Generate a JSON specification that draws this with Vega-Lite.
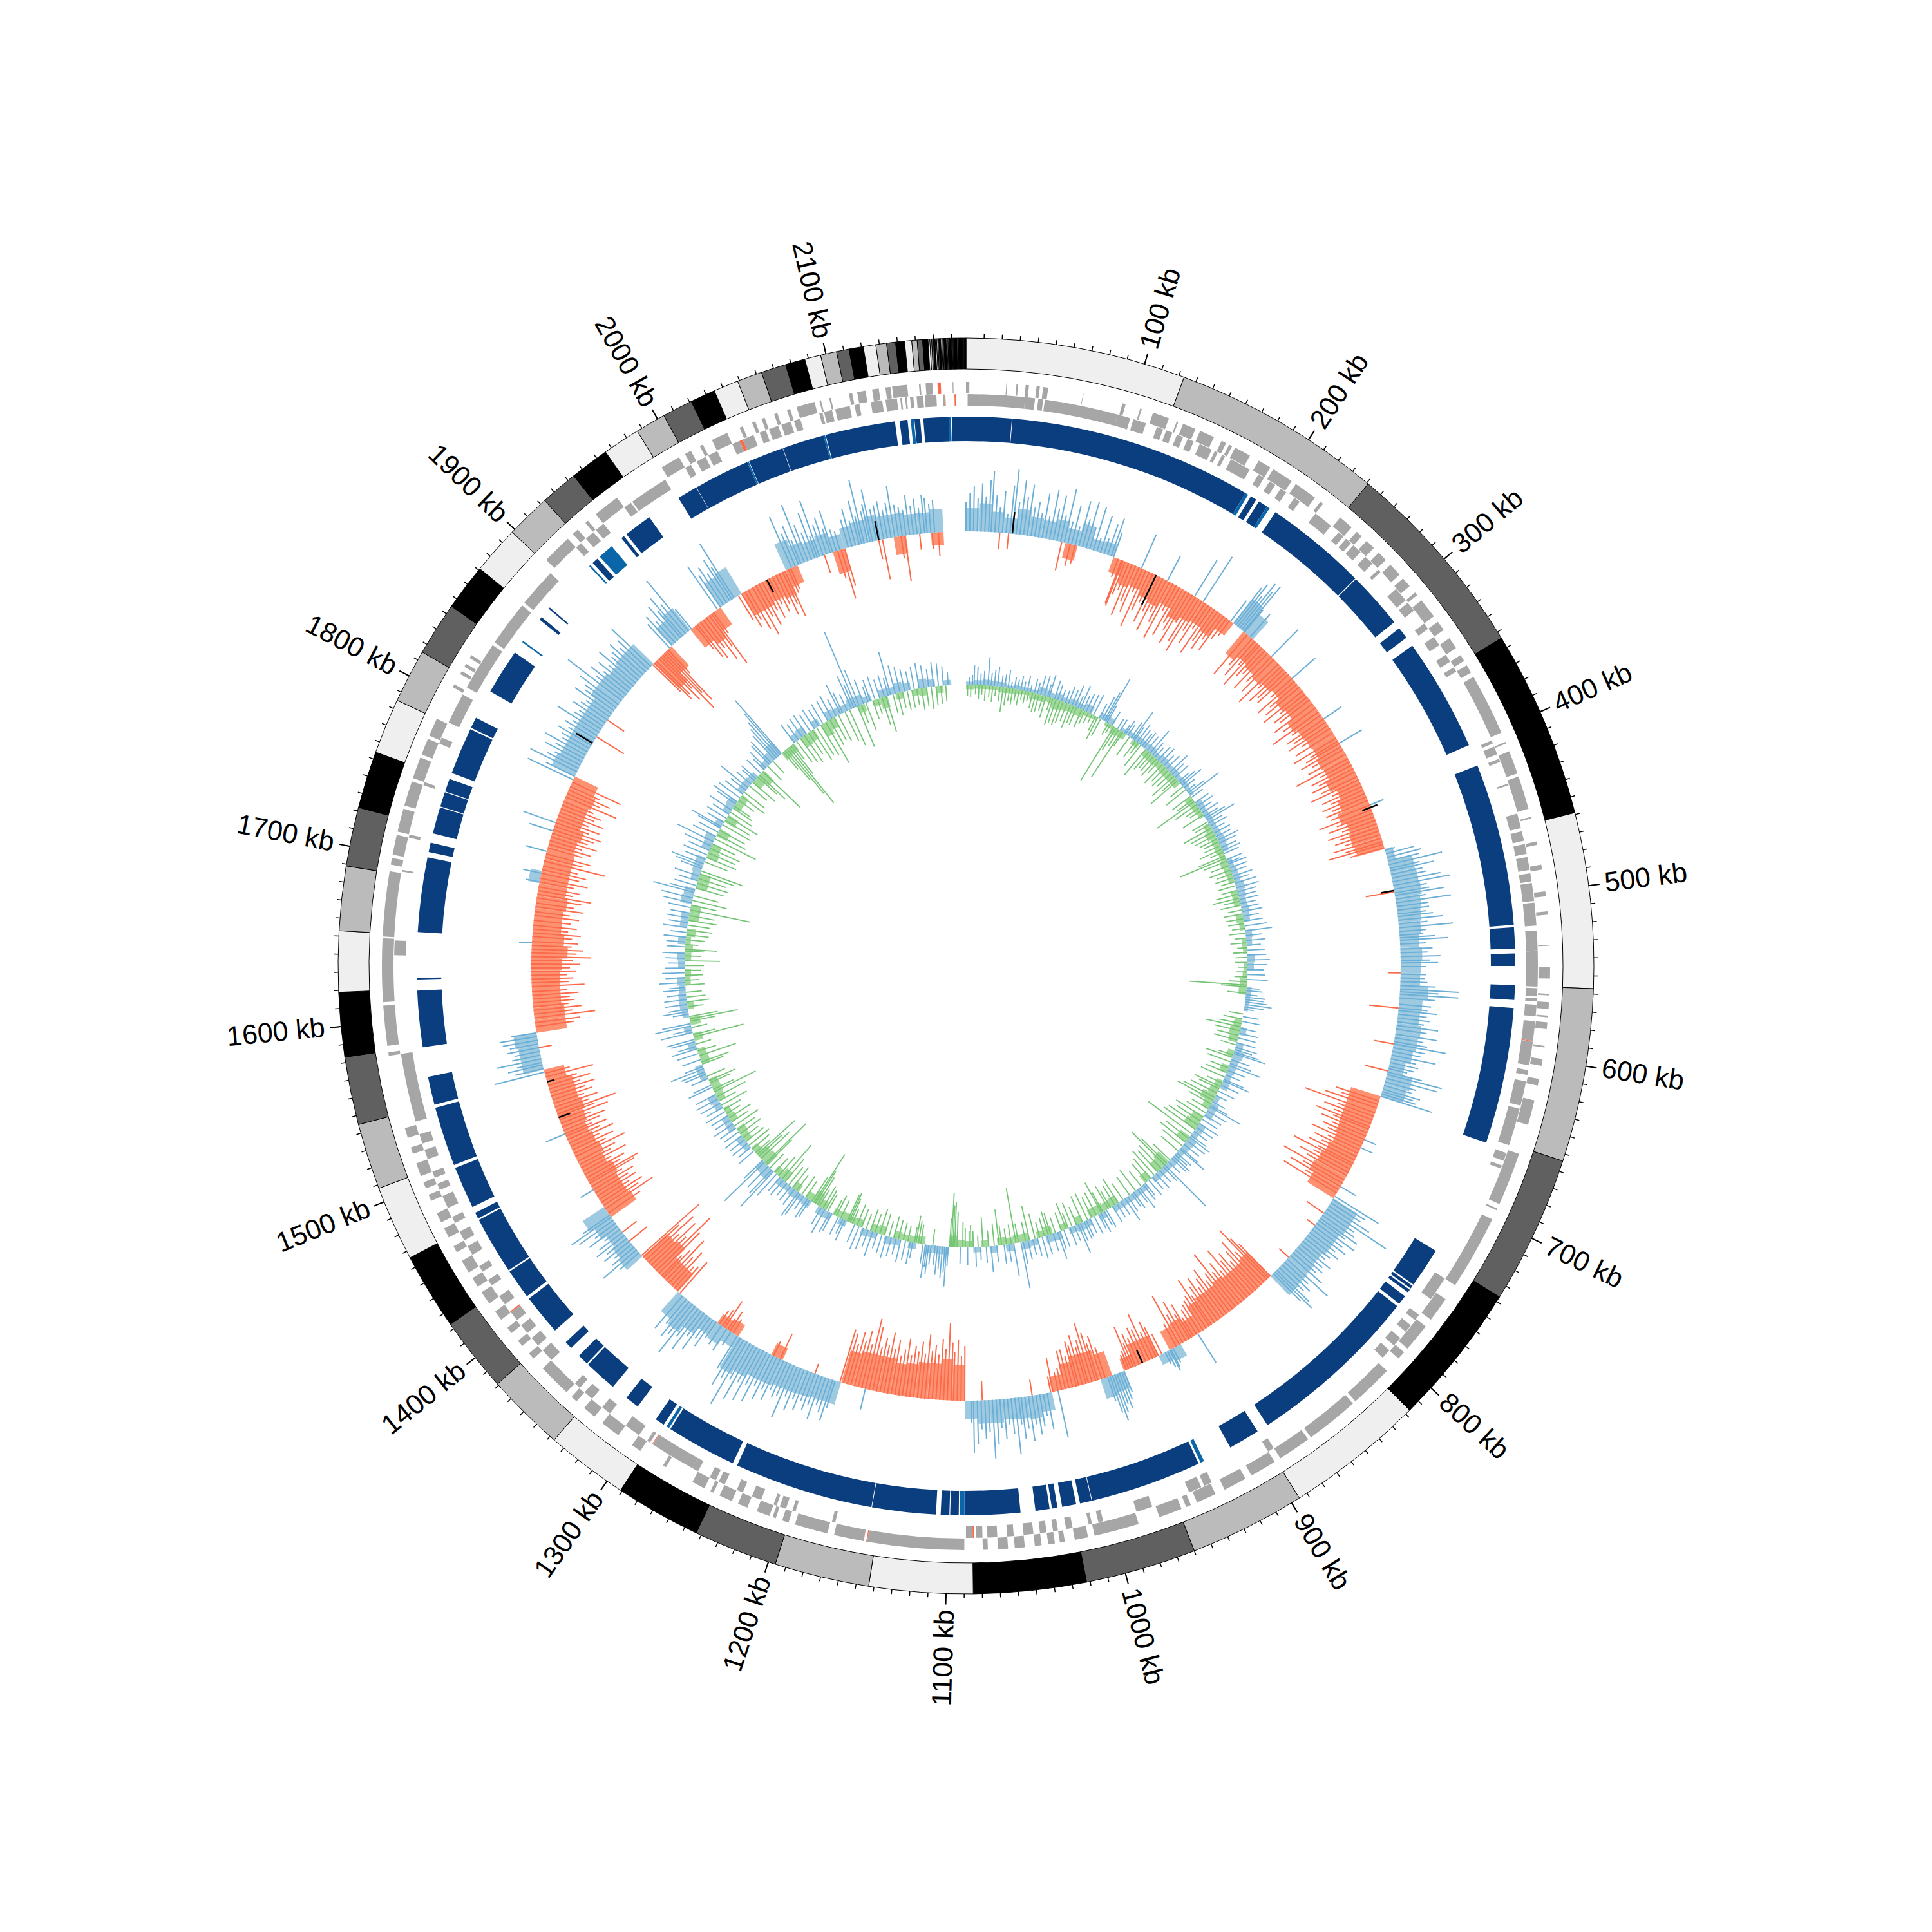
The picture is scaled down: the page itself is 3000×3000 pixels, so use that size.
{"$schema":"https://vega.github.io/schema/vega-lite/v6.json","autosize":{"type":"fit","contains":"padding"},"width":3000,"height":3000,"padding":0,"background":"white","config":{"view":{"stroke":null}},
"datasets":{
"ideo":[{"kb":0,"end":123,"shade":"a"},{"kb":123,"end":241,"shade":"b"},{"kb":241,"end":354,"shade":"c"},{"kb":354,"end":459,"shade":"d"},{"kb":459,"end":557,"shade":"a"},{"kb":557,"end":654,"shade":"b"},{"kb":654,"end":737,"shade":"c"},{"kb":737,"end":817,"shade":"d"},{"kb":817,"end":895,"shade":"a"},{"kb":895,"end":960,"shade":"b"},{"kb":960,"end":1022,"shade":"c"},{"kb":1022,"end":1085,"shade":"d"},{"kb":1085,"end":1143,"shade":"a"},{"kb":1143,"end":1196,"shade":"b"},{"kb":1196,"end":1243,"shade":"c"},{"kb":1243,"end":1291,"shade":"d"},{"kb":1291,"end":1337,"shade":"a"},{"kb":1337,"end":1381,"shade":"b"},{"kb":1381,"end":1423,"shade":"c"},{"kb":1423,"end":1466,"shade":"d"},{"kb":1466,"end":1508,"shade":"a"},{"kb":1508,"end":1545,"shade":"b"},{"kb":1545,"end":1583,"shade":"c"},{"kb":1583,"end":1619,"shade":"d"},{"kb":1619,"end":1653,"shade":"a"},{"kb":1653,"end":1689,"shade":"b"},{"kb":1689,"end":1722,"shade":"c"},{"kb":1722,"end":1754,"shade":"d"},{"kb":1754,"end":1785,"shade":"a"},{"kb":1785,"end":1815,"shade":"b"},{"kb":1815,"end":1845,"shade":"c"},{"kb":1845,"end":1871,"shade":"d"},{"kb":1871,"end":1898,"shade":"a"},{"kb":1898,"end":1923,"shade":"b"},{"kb":1923,"end":1944,"shade":"c"},{"kb":1944,"end":1966,"shade":"d"},{"kb":1966,"end":1987,"shade":"a"},{"kb":1987,"end":2004,"shade":"b"},{"kb":2004,"end":2021,"shade":"c"},{"kb":2021,"end":2035,"shade":"d"},{"kb":2035,"end":2049,"shade":"a"},{"kb":2049,"end":2063,"shade":"b"},{"kb":2063,"end":2077,"shade":"c"},{"kb":2077,"end":2088,"shade":"d"},{"kb":2088,"end":2097,"shade":"a"},{"kb":2097,"end":2106,"shade":"b"},{"kb":2106,"end":2113,"shade":"c"},{"kb":2113,"end":2121,"shade":"d"},{"kb":2121,"end":2128,"shade":"a"},{"kb":2128,"end":2134,"shade":"b"},{"kb":2134,"end":2139,"shade":"c"},{"kb":2139,"end":2144,"shade":"d"},{"kb":2144,"end":2148,"shade":"a"},{"kb":2148,"end":2151,"shade":"b"},{"kb":2151,"end":2154,"shade":"c"},{"kb":2154,"end":2157,"shade":"d"},{"kb":2157,"end":2158,"shade":"a"},{"kb":2158,"end":2159,"shade":"b"},{"kb":2159,"end":2160,"shade":"c"},{"kb":2160,"end":2161,"shade":"d"},{"kb":2161,"end":2161.7,"shade":"a"},{"kb":2161.7,"end":2162.4,"shade":"b"},{"kb":2162.4,"end":2163,"shade":"c"},{"kb":2163,"end":2164,"shade":"d"},{"kb":2164,"end":2164.6,"shade":"a"},{"kb":2164.6,"end":2165.2,"shade":"b"},{"kb":2165.2,"end":2165.8,"shade":"c"},{"kb":2165.8,"end":2167,"shade":"d"},{"kb":2167,"end":2167.5,"shade":"a"},{"kb":2167.5,"end":2168,"shade":"b"},{"kb":2168,"end":2168.6,"shade":"c"},{"kb":2168.6,"end":2170,"shade":"d"},{"kb":2170,"end":2170.4,"shade":"a"},{"kb":2170.4,"end":2170.8,"shade":"b"},{"kb":2170.8,"end":2171.2,"shade":"c"},{"kb":2171.2,"end":2173,"shade":"d"},{"kb":2173,"end":2173.4,"shade":"a"},{"kb":2173.4,"end":2173.8,"shade":"b"},{"kb":2173.8,"end":2174.2,"shade":"c"},{"kb":2174.2,"end":2176,"shade":"d"},{"kb":2176,"end":2176.3,"shade":"a"},{"kb":2176.3,"end":2176.6,"shade":"b"},{"kb":2176.6,"end":2177,"shade":"c"},{"kb":2177,"end":2178,"shade":"d"}],
"ticks":[{"kb":10},{"kb":20},{"kb":30},{"kb":40},{"kb":50},{"kb":60},{"kb":70},{"kb":80},{"kb":90},{"kb":100},{"kb":110},{"kb":120},{"kb":130},{"kb":140},{"kb":150},{"kb":160},{"kb":170},{"kb":180},{"kb":190},{"kb":200},{"kb":210},{"kb":220},{"kb":230},{"kb":240},{"kb":250},{"kb":260},{"kb":270},{"kb":280},{"kb":290},{"kb":300},{"kb":310},{"kb":320},{"kb":330},{"kb":340},{"kb":350},{"kb":360},{"kb":370},{"kb":380},{"kb":390},{"kb":400},{"kb":410},{"kb":420},{"kb":430},{"kb":440},{"kb":450},{"kb":460},{"kb":470},{"kb":480},{"kb":490},{"kb":500},{"kb":510},{"kb":520},{"kb":530},{"kb":540},{"kb":550},{"kb":560},{"kb":570},{"kb":580},{"kb":590},{"kb":600},{"kb":610},{"kb":620},{"kb":630},{"kb":640},{"kb":650},{"kb":660},{"kb":670},{"kb":680},{"kb":690},{"kb":700},{"kb":710},{"kb":720},{"kb":730},{"kb":740},{"kb":750},{"kb":760},{"kb":770},{"kb":780},{"kb":790},{"kb":800},{"kb":810},{"kb":820},{"kb":830},{"kb":840},{"kb":850},{"kb":860},{"kb":870},{"kb":880},{"kb":890},{"kb":900},{"kb":910},{"kb":920},{"kb":930},{"kb":940},{"kb":950},{"kb":960},{"kb":970},{"kb":980},{"kb":990},{"kb":1000},{"kb":1010},{"kb":1020},{"kb":1030},{"kb":1040},{"kb":1050},{"kb":1060},{"kb":1070},{"kb":1080},{"kb":1090},{"kb":1100},{"kb":1110},{"kb":1120},{"kb":1130},{"kb":1140},{"kb":1150},{"kb":1160},{"kb":1170},{"kb":1180},{"kb":1190},{"kb":1200},{"kb":1210},{"kb":1220},{"kb":1230},{"kb":1240},{"kb":1250},{"kb":1260},{"kb":1270},{"kb":1280},{"kb":1290},{"kb":1300},{"kb":1310},{"kb":1320},{"kb":1330},{"kb":1340},{"kb":1350},{"kb":1360},{"kb":1370},{"kb":1380},{"kb":1390},{"kb":1400},{"kb":1410},{"kb":1420},{"kb":1430},{"kb":1440},{"kb":1450},{"kb":1460},{"kb":1470},{"kb":1480},{"kb":1490},{"kb":1500},{"kb":1510},{"kb":1520},{"kb":1530},{"kb":1540},{"kb":1550},{"kb":1560},{"kb":1570},{"kb":1580},{"kb":1590},{"kb":1600},{"kb":1610},{"kb":1620},{"kb":1630},{"kb":1640},{"kb":1650},{"kb":1660},{"kb":1670},{"kb":1680},{"kb":1690},{"kb":1700},{"kb":1710},{"kb":1720},{"kb":1730},{"kb":1740},{"kb":1750},{"kb":1760},{"kb":1770},{"kb":1780},{"kb":1790},{"kb":1800},{"kb":1810},{"kb":1820},{"kb":1830},{"kb":1840},{"kb":1850},{"kb":1860},{"kb":1870},{"kb":1880},{"kb":1890},{"kb":1900},{"kb":1910},{"kb":1920},{"kb":1930},{"kb":1940},{"kb":1950},{"kb":1960},{"kb":1970},{"kb":1980},{"kb":1990},{"kb":2000},{"kb":2010},{"kb":2020},{"kb":2030},{"kb":2040},{"kb":2050},{"kb":2060},{"kb":2070},{"kb":2080},{"kb":2090},{"kb":2100},{"kb":2110},{"kb":2120},{"kb":2130},{"kb":2140},{"kb":2150},{"kb":2160},{"kb":2170}],
"labels":[{"kb":100,"t":"100 kb"},{"kb":200,"t":"200 kb"},{"kb":300,"t":"300 kb"},{"kb":400,"t":"400 kb"},{"kb":500,"t":"500 kb"},{"kb":600,"t":"600 kb"},{"kb":700,"t":"700 kb"},{"kb":800,"t":"800 kb"},{"kb":900,"t":"900 kb"},{"kb":1000,"t":"1000 kb"},{"kb":1100,"t":"1100 kb"},{"kb":1200,"t":"1200 kb"},{"kb":1300,"t":"1300 kb"},{"kb":1400,"t":"1400 kb"},{"kb":1500,"t":"1500 kb"},{"kb":1600,"t":"1600 kb"},{"kb":1700,"t":"1700 kb"},{"kb":1800,"t":"1800 kb"},{"kb":1900,"t":"1900 kb"},{"kb":2000,"t":"2000 kb"},{"kb":2100,"t":"2100 kb"}],
"genes":[{"kb":0,"end":2,"s":1},{"kb":24,"end":24.5,"s":1},{"kb":30,"end":31,"s":1},{"kb":35.5,"end":37.5,"s":1},{"kb":42,"end":44,"s":1},{"kb":46,"end":49,"s":1},{"kb":70,"end":70.3,"s":1},{"kb":94,"end":96,"s":1},{"kb":105,"end":106,"s":1},{"kb":113,"end":123,"s":1},{"kb":128,"end":129,"s":1},{"kb":132,"end":140,"s":1},{"kb":143,"end":152,"s":1},{"kb":157,"end":160,"s":1},{"kb":162,"end":164,"s":1},{"kb":166,"end":176,"s":1},{"kb":182,"end":190,"s":1},{"kb":192,"end":205,"s":1},{"kb":208,"end":222,"s":1},{"kb":226,"end":228,"s":1},{"kb":241,"end":250,"s":1},{"kb":254,"end":258,"s":1},{"kb":262,"end":268,"s":1},{"kb":272,"end":278,"s":1},{"kb":282,"end":290,"s":1},{"kb":293,"end":299,"s":1},{"kb":304,"end":306,"s":1},{"kb":310,"end":322,"s":1},{"kb":326,"end":332,"s":1},{"kb":338,"end":345,"s":1},{"kb":350,"end":354,"s":1},{"kb":357,"end":362,"s":1},{"kb":365,"end":402,"s":1},{"kb":408,"end":409,"s":1},{"kb":414,"end":428,"s":1},{"kb":430,"end":450,"s":1},{"kb":455,"end":456,"s":1},{"kb":470,"end":472,"s":1},{"kb":484,"end":487,"s":1},{"kb":500,"end":503,"s":1},{"kb":512,"end":514,"s":1},{"kb":532,"end":532.5,"s":1},{"kb":545,"end":552,"s":1},{"kb":561,"end":562,"s":1},{"kb":566,"end":570,"s":1},{"kb":574,"end":575,"s":1},{"kb":578,"end":582,"s":1},{"kb":592,"end":593,"s":1},{"kb":600,"end":604,"s":1},{"kb":612,"end":616,"s":1},{"kb":625,"end":640,"s":1},{"kb":658,"end":690,"s":1},{"kb":693,"end":694,"s":1},{"kb":700,"end":745,"s":1},{"kb":755,"end":770,"s":1},{"kb":775,"end":792,"s":1},{"kb":795,"end":800,"s":1},{"kb":810,"end":836,"s":1},{"kb":838,"end":870,"s":1},{"kb":872,"end":892,"s":1},{"kb":896,"end":912,"s":1},{"kb":916,"end":930,"s":1},{"kb":936,"end":948,"s":1},{"kb":952,"end":955,"s":1},{"kb":958,"end":972,"s":1},{"kb":985,"end":1012,"s":1},{"kb":1016,"end":1024,"s":1},{"kb":1030,"end":1033,"s":1},{"kb":1036,"end":1040,"s":1},{"kb":1044,"end":1048,"s":1},{"kb":1054,"end":1060,"s":1},{"kb":1064,"end":1070,"s":1},{"kb":1076,"end":1079,"s":1},{"kb":1090,"end":1148,"s":1},{"kb":1148,"end":1148.5,"s":1,"t":"r"},{"kb":1150,"end":1168,"s":1},{"kb":1172,"end":1192,"s":1},{"kb":1196,"end":1200,"s":1},{"kb":1204,"end":1206,"s":1},{"kb":1208,"end":1216,"s":1},{"kb":1222,"end":1228,"s":1},{"kb":1232,"end":1240,"s":1},{"kb":1244,"end":1246,"s":1},{"kb":1250,"end":1258,"s":1},{"kb":1276,"end":1278,"s":1},{"kb":1294,"end":1300,"s":1},{"kb":1310,"end":1322,"s":1},{"kb":1328,"end":1336,"s":1},{"kb":1342,"end":1346,"s":1},{"kb":1350,"end":1370,"s":1},{"kb":1378,"end":1382,"s":1},{"kb":1388,"end":1392,"s":1},{"kb":1398,"end":1402,"s":1},{"kb":1408,"end":1414,"s":1},{"kb":1420,"end":1428,"s":1},{"kb":1432,"end":1438,"s":1},{"kb":1442,"end":1450,"s":1},{"kb":1456,"end":1460,"s":1},{"kb":1466,"end":1472,"s":1},{"kb":1476,"end":1482,"s":1},{"kb":1490,"end":1494,"s":1},{"kb":1498,"end":1502,"s":1},{"kb":1506,"end":1514,"s":1},{"kb":1520,"end":1524,"s":1},{"kb":1530,"end":1536,"s":1},{"kb":1580,"end":1582,"s":1},{"kb":1586,"end":1610,"s":1},{"kb":1612,"end":1650,"s":1},{"kb":1651,"end":1690,"s":1},{"kb":1694,"end":1698,"s":1},{"kb":1700,"end":1712,"s":1},{"kb":1714,"end":1728,"s":1},{"kb":1730,"end":1745,"s":1},{"kb":1747,"end":1760,"s":1},{"kb":1762,"end":1772,"s":1},{"kb":1774,"end":1785,"s":1},{"kb":1806,"end":1808,"s":1},{"kb":1815,"end":1817,"s":1},{"kb":1820,"end":1822,"s":1},{"kb":1826,"end":1828,"s":1},{"kb":1900,"end":1918,"s":1},{"kb":1922,"end":1926,"s":1},{"kb":1932,"end":1934,"s":1},{"kb":1940,"end":1956,"s":1},{"kb":1988,"end":2000,"s":1},{"kb":2004,"end":2008,"s":1},{"kb":2014,"end":2016,"s":1},{"kb":2022,"end":2032,"s":1},{"kb":2040,"end":2042,"s":1},{"kb":2048,"end":2050,"s":1},{"kb":2054,"end":2056,"s":1},{"kb":2062,"end":2064,"s":1},{"kb":2070,"end":2072,"s":1},{"kb":2076,"end":2087,"s":1},{"kb":2090,"end":2091,"s":1},{"kb":2096,"end":2097,"s":1},{"kb":2108,"end":2110,"s":1},{"kb":2113,"end":2118,"s":1},{"kb":2122,"end":2126,"s":1},{"kb":2130,"end":2133,"s":1},{"kb":2134,"end":2143,"s":1},{"kb":2150,"end":2151,"s":1},{"kb":2154,"end":2158,"s":1},{"kb":2161,"end":2163,"s":1,"t":"r"},{"kb":2170,"end":2170.5,"s":1},
{"kb":1,"end":36,"s":0},{"kb":36,"end":42,"s":0},{"kb":44,"end":47,"s":0},{"kb":48,"end":93,"s":0},{"kb":93,"end":101,"s":0},{"kb":103,"end":111,"s":0},{"kb":118,"end":122,"s":0},{"kb":124,"end":128,"s":0},{"kb":131,"end":135,"s":0},{"kb":138,"end":142,"s":0},{"kb":146,"end":154,"s":0},{"kb":156,"end":158,"s":0},{"kb":161,"end":163,"s":0},{"kb":167,"end":180,"s":0},{"kb":186,"end":190,"s":0},{"kb":194,"end":198,"s":0},{"kb":202,"end":206,"s":0},{"kb":212,"end":216,"s":0},{"kb":228,"end":240,"s":0},{"kb":246,"end":250,"s":0},{"kb":252,"end":256,"s":0},{"kb":258,"end":264,"s":0},{"kb":268,"end":274,"s":0},{"kb":279,"end":281,"s":0},{"kb":295,"end":304,"s":0},{"kb":306,"end":312,"s":0},{"kb":322,"end":326,"s":0},{"kb":332,"end":338,"s":0},{"kb":345,"end":350,"s":0},{"kb":354,"end":357,"s":0},{"kb":404,"end":406,"s":0},{"kb":408,"end":413,"s":0},{"kb":416,"end":418,"s":0},{"kb":432,"end":433,"s":0},{"kb":451,"end":460,"s":0},{"kb":462,"end":468,"s":0},{"kb":470,"end":476,"s":0},{"kb":478,"end":486,"s":0},{"kb":488,"end":493,"s":0},{"kb":494,"end":505,"s":0},{"kb":506,"end":520,"s":0},{"kb":523,"end":535,"s":0},{"kb":535.4,"end":557,"s":0},{"kb":558,"end":563,"s":0},{"kb":564,"end":566,"s":0},{"kb":568,"end":575,"s":0},{"kb":578,"end":590,"s":0},{"kb":590,"end":590.4,"s":0,"t":"r"},{"kb":590.5,"end":605,"s":0},{"kb":608,"end":611,"s":0},{"kb":615,"end":630,"s":0},{"kb":632,"end":655,"s":0},{"kb":660,"end":665,"s":0},{"kb":668,"end":670,"s":0},{"kb":745,"end":760,"s":0},{"kb":772,"end":776,"s":0},{"kb":780,"end":785,"s":0},{"kb":790,"end":796,"s":0},{"kb":800,"end":806,"s":0},{"kb":892,"end":896,"s":0},{"kb":935,"end":940,"s":0},{"kb":942,"end":950,"s":0},{"kb":974,"end":984,"s":0},{"kb":1005,"end":1008,"s":0},{"kb":1012,"end":1014,"s":0},{"kb":1024,"end":1028,"s":0},{"kb":1033,"end":1036,"s":0},{"kb":1040,"end":1044,"s":0},{"kb":1048,"end":1054,"s":0},{"kb":1060,"end":1064,"s":0},{"kb":1070,"end":1076,"s":0},{"kb":1079,"end":1083,"s":0},{"kb":1084,"end":1085,"s":0,"t":"r"},{"kb":1085,"end":1089,"s":0},{"kb":1169,"end":1171,"s":0},{"kb":1194,"end":1196,"s":0},{"kb":1200,"end":1204,"s":0},{"kb":1206,"end":1208,"s":0},{"kb":1216,"end":1222,"s":0},{"kb":1228,"end":1232,"s":0},{"kb":1240,"end":1244,"s":0},{"kb":1246,"end":1250,"s":0},{"kb":1258,"end":1262,"s":0},{"kb":1262,"end":1290,"s":0},{"kb":1290,"end":1290.4,"s":0,"t":"r"},{"kb":1292,"end":1294,"s":0},{"kb":1300,"end":1310,"s":0},{"kb":1322,"end":1328,"s":0},{"kb":1336,"end":1342,"s":0},{"kb":1346,"end":1350,"s":0},{"kb":1370,"end":1378,"s":0},{"kb":1382,"end":1388,"s":0},{"kb":1392,"end":1398,"s":0},{"kb":1402,"end":1408,"s":0},{"kb":1408,"end":1408.8,"s":0,"t":"r"},{"kb":1414,"end":1420,"s":0},{"kb":1428,"end":1432,"s":0},{"kb":1438,"end":1442,"s":0},{"kb":1450,"end":1456,"s":0},{"kb":1460,"end":1466,"s":0},{"kb":1472,"end":1476,"s":0},{"kb":1482,"end":1490,"s":0},{"kb":1494,"end":1498,"s":0},{"kb":1502,"end":1506,"s":0},{"kb":1514,"end":1520,"s":0},{"kb":1524,"end":1530,"s":0},{"kb":1538,"end":1580,"s":0},{"kb":1640,"end":1649,"s":0},{"kb":1691,"end":1692,"s":0},{"kb":1712,"end":1714,"s":0},{"kb":1745,"end":1747,"s":0},{"kb":1772,"end":1776,"s":0},{"kb":1786,"end":1805,"s":0},{"kb":1810,"end":1840,"s":0},{"kb":1842,"end":1870,"s":0},{"kb":1872,"end":1896,"s":0},{"kb":1918,"end":1922,"s":0},{"kb":1926,"end":1932,"s":0},{"kb":1934,"end":1940,"s":0},{"kb":1956,"end":1961,"s":0},{"kb":1962,"end":1986,"s":0},{"kb":2000,"end":2004,"s":0},{"kb":2008,"end":2014,"s":0},{"kb":2016,"end":2022,"s":0},{"kb":2032,"end":2037,"s":0},{"kb":2037,"end":2039,"s":0,"t":"r"},{"kb":2039,"end":2046,"s":0},{"kb":2050,"end":2054,"s":0},{"kb":2056,"end":2062,"s":0},{"kb":2064,"end":2070,"s":0},{"kb":2072,"end":2076,"s":0},{"kb":2088,"end":2090,"s":0},{"kb":2091,"end":2096,"s":0},{"kb":2098,"end":2107,"s":0},{"kb":2110,"end":2113,"s":0},{"kb":2120,"end":2127,"s":0},{"kb":2129,"end":2136,"s":0},{"kb":2138,"end":2139,"s":0},{"kb":2141,"end":2142,"s":0},{"kb":2144,"end":2146,"s":0},{"kb":2148,"end":2152,"s":0},{"kb":2153,"end":2160,"s":0},{"kb":2164,"end":2165,"s":0},{"kb":2165,"end":2165.5,"s":0,"t":"r"},{"kb":2171,"end":2172,"s":0,"t":"r"}],
"blocks":[{"kb":0,"end":29},{"kb":29.4,"end":185},{"kb":185,"end":187,"t":"l"},{"kb":189,"end":193},{"kb":195,"end":201},{"kb":201,"end":203,"t":"l"},{"kb":207.5,"end":273},{"kb":273.6,"end":310},{"kb":315,"end":322.5},{"kb":328.7,"end":401},{"kb":415,"end":518.5},{"kb":520,"end":533.5},{"kb":536.6,"end":544.5},{"kb":556.6,"end":566},{"kb":571,"end":658},{"kb":733.4,"end":759},{"kb":760,"end":762},{"kb":763,"end":765},{"kb":768,"end":774},{"kb":776,"end":887.6},{"kb":895,"end":915},{"kb":933.6,"end":936,"t":"l"},{"kb":937.4,"end":1008.6},{"kb":1009,"end":1016.5},{"kb":1019,"end":1028},{"kb":1031,"end":1034.5},{"kb":1036,"end":1045},{"kb":1054.5,"end":1090},{"kb":1090,"end":1093,"t":"l"},{"kb":1093.6,"end":1099},{"kb":1099.5,"end":1105},{"kb":1108,"end":1148.6},{"kb":1149,"end":1238},{"kb":1241,"end":1286},{"kb":1287,"end":1289,"t":"l"},{"kb":1291,"end":1297},{"kb":1311,"end":1320},{"kb":1331,"end":1352},{"kb":1353,"end":1360},{"kb":1367,"end":1372},{"kb":1382,"end":1408},{"kb":1410,"end":1429},{"kb":1430,"end":1467},{"kb":1468,"end":1472},{"kb":1476,"end":1503},{"kb":1505,"end":1543},{"kb":1545,"end":1563},{"kb":1582,"end":1618},{"kb":1625,"end":1626},{"kb":1655,"end":1702.5},{"kb":1706,"end":1712},{"kb":1718,"end":1735},{"kb":1735.6,"end":1745},{"kb":1745.6,"end":1754},{"kb":1758,"end":1788},{"kb":1789,"end":1796},{"kb":1815,"end":1844},{"kb":1852,"end":1853,"t":"l"},{"kb":1870,"end":1872},{"kb":1879,"end":1880},{"kb":1916,"end":1917,"t":"l"},{"kb":1919,"end":1923},{"kb":1925,"end":1935,"t":"l"},{"kb":1943,"end":1945},{"kb":1947,"end":1965},{"kb":1987,"end":2000},{"kb":2000.3,"end":2036},{"kb":2036,"end":2037,"t":"l"},{"kb":2037.3,"end":2060},{"kb":2060.3,"end":2087},{"kb":2087,"end":2088,"t":"l"},{"kb":2088.4,"end":2133},{"kb":2136,"end":2141},{"kb":2143,"end":2145,"t":"l"},{"kb":2145.4,"end":2149},{"kb":2151,"end":2167},{"kb":2167,"end":2168.5,"t":"l"},{"kb":2169,"end":2178}],
"marks":[{"kb":37,"v":2,"v2":34},{"kb":157,"v":-51,"v2":0},{"kb":415,"v":-14,"v2":11},{"kb":484,"v":-21,"v2":0},{"kb":944,"v":-22,"v2":0},{"kb":1510,"v":-19,"v2":0},{"kb":1540,"v":-12,"v2":0},{"kb":1820,"v":0,"v2":30},{"kb":2013,"v":-22,"v2":0},{"kb":2108,"v":0,"v2":30}],
"outer":[{"kb":0,"v":45},{"kb":3,"v":60},{"kb":6,"v":70},{"kb":9,"v":52},{"kb":12,"v":75},{"kb":15,"v":55},{"kb":18,"v":80},{"kb":20,"v":95},{"kb":23,"v":58},{"kb":26,"v":40},{"kb":27,"v":-25},{"kb":29,"v":65},{"kb":32,"v":30},{"kb":34,"v":-25},{"kb":35,"v":75},{"kb":37,"v":100},{"kb":40,"v":50},{"kb":43,"v":85},{"kb":46,"v":60},{"kb":49,"v":80},{"kb":52,"v":45},{"kb":55,"v":55},{"kb":58,"v":38},{"kb":61,"v":70},{"kb":64,"v":35},{"kb":67,"v":78},{"kb":70,"v":50},{"kb":73,"v":72},{"kb":76,"v":42},{"kb":77,"v":-45},{"kb":79,"v":85},{"kb":82,"v":35},{"kb":84,"v":-35},{"kb":85,"v":62},{"kb":88,"v":30},{"kb":88,"v":-30},{"kb":91,"v":72},{"kb":94,"v":45},{"kb":97,"v":75},{"kb":100,"v":35},{"kb":103,"v":70},{"kb":106,"v":22},{"kb":109,"v":60},{"kb":112,"v":25},{"kb":115,"v":50},{"kb":118,"v":62},{"kb":120,"v":40},{"kb":124,"v":-30},{"kb":127,"v":-72},{"kb":128,"v":-75},{"kb":130,"v":-55},{"kb":133,"v":-45},{"kb":136,"v":-85},{"kb":139,"v":-60},{"kb":142,"v":-75},{"kb":144,"v":57},{"kb":145,"v":-40},{"kb":148,"v":-95},{"kb":151,"v":-65},{"kb":154,"v":-50},{"kb":157,"v":-80},{"kb":160,"v":-60},{"kb":163,"v":-90},{"kb":166,"v":-55},{"kb":167,"v":43},{"kb":169,"v":-70},{"kb":172,"v":-95},{"kb":175,"v":-45},{"kb":178,"v":-85},{"kb":181,"v":-60},{"kb":184,"v":-70},{"kb":187,"v":-90},{"kb":190,"v":-50},{"kb":192,"v":67},{"kb":193,"v":-80},{"kb":196,"v":-95},{"kb":199,"v":-55},{"kb":200,"v":83},{"kb":202,"v":-75},{"kb":205,"v":-45},{"kb":208,"v":-85},{"kb":211,"v":-60},{"kb":214,"v":-70},{"kb":217,"v":-50},{"kb":220,"v":-65},{"kb":223,"v":-40},{"kb":226,"v":-30},{"kb":227,"v":40},{"kb":230,"v":70},{"kb":232,"v":80},{"kb":234,"v":60},{"kb":236,"v":88},{"kb":238,"v":75},{"kb":240,"v":90},{"kb":241,"v":45},{"kb":244,"v":-80},{"kb":247,"v":47},{"kb":249,"v":-55},{"kb":252,"v":-70},{"kb":255,"v":-45},{"kb":257,"v":-82},{"kb":260,"v":-60},{"kb":263,"v":-50},{"kb":266,"v":-75},{"kb":270,"v":59},{"kb":270,"v":-55},{"kb":273,"v":-70},{"kb":278,"v":-85},{"kb":281,"v":-50},{"kb":284,"v":-72},{"kb":287,"v":-60},{"kb":290,"v":-65},{"kb":294,"v":48},{"kb":294,"v":-45},{"kb":297,"v":-75},{"kb":300,"v":-55},{"kb":303,"v":-68},{"kb":307,"v":-78},{"kb":310,"v":-50},{"kb":313,"v":-66},{"kb":316,"v":-58},{"kb":320,"v":-74},{"kb":324,"v":-62},{"kb":328,"v":-87},{"kb":331,"v":-55},{"kb":335,"v":33},{"kb":335,"v":-70},{"kb":338,"v":-60},{"kb":341,"v":-72},{"kb":344,"v":-52},{"kb":348,"v":-68},{"kb":353,"v":-76},{"kb":356,"v":-50},{"kb":358,"v":41},{"kb":358,"v":-60},{"kb":361,"v":-72},{"kb":364,"v":-55},{"kb":368,"v":-66},{"kb":372,"v":-91},{"kb":375,"v":-52},{"kb":378,"v":-70},{"kb":381,"v":-60},{"kb":384,"v":-75},{"kb":388,"v":-62},{"kb":391,"v":-82},{"kb":394,"v":-48},{"kb":397,"v":-68},{"kb":400,"v":-55},{"kb":403,"v":-72},{"kb":406,"v":-58},{"kb":409,"v":-70},{"kb":413,"v":23},{"kb":413,"v":-65},{"kb":417,"v":-87},{"kb":420,"v":-60},{"kb":423,"v":-75},{"kb":426,"v":-55},{"kb":429,"v":-80},{"kb":432,"v":-62},{"kb":435,"v":-72},{"kb":438,"v":-58},{"kb":441,"v":-78},{"kb":444,"v":-60},{"kb":446,"v":-88},{"kb":449,"v":-55},{"kb":451,"v":16},{"kb":454,"v":45},{"kb":457,"v":55},{"kb":460,"v":50},{"kb":463,"v":85},{"kb":466,"v":48},{"kb":468,"v":69},{"kb":471,"v":50},{"kb":474,"v":55},{"kb":477,"v":76},{"kb":480,"v":90},{"kb":483,"v":52},{"kb":485,"v":-45},{"kb":486,"v":55},{"kb":488,"v":78},{"kb":491,"v":48},{"kb":494,"v":86},{"kb":497,"v":50},{"kb":500,"v":50},{"kb":503,"v":45},{"kb":505,"v":55},{"kb":508,"v":70},{"kb":511,"v":45},{"kb":514,"v":84},{"kb":517,"v":42},{"kb":520,"v":37},{"kb":522,"v":55},{"kb":524,"v":75},{"kb":527,"v":40},{"kb":531,"v":50},{"kb":534,"v":42},{"kb":537,"v":62},{"kb":540,"v":45},{"kb":542,"v":58},{"kb":545,"v":40},{"kb":550,"v":-20},{"kb":551,"v":40},{"kb":554,"v":38},{"kb":557,"v":42},{"kb":560,"v":55},{"kb":563,"v":92},{"kb":565,"v":60},{"kb":567,"v":91},{"kb":570,"v":55},{"kb":575,"v":50},{"kb":578,"v":-46},{"kb":578,"v":45},{"kb":580,"v":60},{"kb":583,"v":45},{"kb":586,"v":50},{"kb":589,"v":42},{"kb":592,"v":65},{"kb":595,"v":48},{"kb":599,"v":65},{"kb":602,"v":45},{"kb":605,"v":52},{"kb":607,"v":82},{"kb":607,"v":-31},{"kb":610,"v":50},{"kb":613,"v":45},{"kb":616,"v":70},{"kb":619,"v":40},{"kb":622,"v":45},{"kb":625,"v":40},{"kb":627,"v":30},{"kb":629,"v":-37},{"kb":630,"v":55},{"kb":632,"v":88},{"kb":635,"v":82},{"kb":638,"v":50},{"kb":641,"v":45},{"kb":644,"v":60},{"kb":646,"v":50},{"kb":648,"v":55},{"kb":650,"v":83},{"kb":654,"v":-70},{"kb":657,"v":-60},{"kb":660,"v":-85},{"kb":664,"v":-116},{"kb":667,"v":-60},{"kb":670,"v":-80},{"kb":673,"v":-62},{"kb":676,"v":-90},{"kb":678,"v":-60},{"kb":681,"v":-77},{"kb":684,"v":-58},{"kb":687,"v":19},{"kb":687,"v":-70},{"kb":690,"v":-60},{"kb":693,"v":-85},{"kb":694,"v":20},{"kb":696,"v":-55},{"kb":699,"v":-75},{"kb":702,"v":-60},{"kb":705,"v":-80},{"kb":708,"v":-62},{"kb":710,"v":-101},{"kb":713,"v":-65},{"kb":716,"v":-85},{"kb":719,"v":-70},{"kb":723,"v":-108},{"kb":726,"v":-70},{"kb":729,"v":28},{"kb":729,"v":-90},{"kb":732,"v":-60},{"kb":735,"v":-96},{"kb":738,"v":80},{"kb":741,"v":60},{"kb":744,"v":55},{"kb":747,"v":75},{"kb":750,"v":111},{"kb":753,"v":55},{"kb":754,"v":-32},{"kb":756,"v":60},{"kb":759,"v":70},{"kb":761,"v":50},{"kb":764,"v":73},{"kb":766,"v":-15},{"kb":767,"v":55},{"kb":770,"v":65},{"kb":773,"v":50},{"kb":776,"v":60},{"kb":779,"v":50},{"kb":782,"v":45},{"kb":785,"v":60},{"kb":788,"v":50},{"kb":791,"v":55},{"kb":794,"v":48},{"kb":797,"v":65},{"kb":799,"v":-20},{"kb":801,"v":85},{"kb":804,"v":50},{"kb":807,"v":60},{"kb":810,"v":52},{"kb":813,"v":70},{"kb":815,"v":80},{"kb":817,"v":60},{"kb":820,"v":-70},{"kb":822,"v":-85},{"kb":824,"v":-106},{"kb":827,"v":-65},{"kb":830,"v":-90},{"kb":833,"v":-75},{"kb":836,"v":-60},{"kb":839,"v":-80},{"kb":842,"v":-70},{"kb":845,"v":-95},{"kb":848,"v":-60},{"kb":851,"v":-78},{"kb":854,"v":-65},{"kb":857,"v":-104},{"kb":860,"v":-70},{"kb":863,"v":-60},{"kb":866,"v":-85},{"kb":869,"v":-72},{"kb":872,"v":-60},{"kb":875,"v":-80},{"kb":878,"v":-68},{"kb":881,"v":-55},{"kb":883,"v":-86},{"kb":886,"v":-60},{"kb":889,"v":-55},{"kb":892,"v":-50},{"kb":894,"v":53},{"kb":895,"v":-45},{"kb":898,"v":-35},{"kb":900,"v":-60},{"kb":902,"v":-45},{"kb":905,"v":-70},{"kb":908,"v":-50},{"kb":911,"v":-86},{"kb":914,"v":-40},{"kb":917,"v":25},{"kb":919,"v":30},{"kb":920,"v":36},{"kb":922,"v":28},{"kb":924,"v":20},{"kb":927,"v":-35},{"kb":930,"v":-50},{"kb":932,"v":-60},{"kb":935,"v":-45},{"kb":938,"v":-78},{"kb":941,"v":-55},{"kb":944,"v":-60},{"kb":947,"v":-45},{"kb":950,"v":-55},{"kb":952,"v":-40},{"kb":954,"v":-69},{"kb":956,"v":-30},{"kb":958,"v":-25},{"kb":960,"v":35},{"kb":962,"v":45},{"kb":964,"v":58},{"kb":966,"v":50},{"kb":968,"v":62},{"kb":970,"v":74},{"kb":972,"v":60},{"kb":974,"v":40},{"kb":976,"v":-50},{"kb":979,"v":-70},{"kb":982,"v":-60},{"kb":984,"v":-78},{"kb":987,"v":-95},{"kb":990,"v":-70},{"kb":992,"v":-60},{"kb":995,"v":-80},{"kb":998,"v":-65},{"kb":1000,"v":-72},{"kb":1003,"v":-50},{"kb":1006,"v":-62},{"kb":1009,"v":-61},{"kb":1012,"v":-35},{"kb":1015,"v":74},{"kb":1015,"v":-30},{"kb":1019,"v":-54},{"kb":1021,"v":-25},{"kb":1024,"v":57},{"kb":1027,"v":35},{"kb":1030,"v":50},{"kb":1033,"v":62},{"kb":1036,"v":45},{"kb":1036,"v":-25},{"kb":1039,"v":70},{"kb":1042,"v":50},{"kb":1045,"v":65},{"kb":1047,"v":42},{"kb":1050,"v":88},{"kb":1053,"v":55},{"kb":1056,"v":40},{"kb":1059,"v":62},{"kb":1062,"v":45},{"kb":1065,"v":70},{"kb":1068,"v":91},{"kb":1071,"v":50},{"kb":1074,"v":60},{"kb":1076,"v":-30},{"kb":1077,"v":45},{"kb":1080,"v":68},{"kb":1083,"v":81},{"kb":1085,"v":35},{"kb":1090,"v":-85},{"kb":1093,"v":-70},{"kb":1096,"v":-95},{"kb":1099,"v":-75},{"kb":1101,"v":-90},{"kb":1104,"v":-120},{"kb":1107,"v":-80},{"kb":1110,"v":-95},{"kb":1113,"v":-70},{"kb":1116,"v":-85},{"kb":1119,"v":-75},{"kb":1122,"v":-100},{"kb":1125,"v":-70},{"kb":1128,"v":-88},{"kb":1131,"v":-72},{"kb":1134,"v":-80},{"kb":1137,"v":-65},{"kb":1140,"v":-90},{"kb":1143,"v":-72},{"kb":1146,"v":-62},{"kb":1149,"v":-85},{"kb":1152,"v":-70},{"kb":1155,"v":-95},{"kb":1158,"v":-75},{"kb":1161,"v":-85},{"kb":1164,"v":-70},{"kb":1167,"v":-100},{"kb":1170,"v":-112},{"kb":1170,"v":33},{"kb":1173,"v":-70},{"kb":1176,"v":-90},{"kb":1179,"v":-72},{"kb":1182,"v":-85},{"kb":1185,"v":-65},{"kb":1188,"v":-80},{"kb":1191,"v":-85},{"kb":1195,"v":45},{"kb":1197,"v":66},{"kb":1200,"v":55},{"kb":1203,"v":45},{"kb":1206,"v":70},{"kb":1209,"v":50},{"kb":1212,"v":-16},{"kb":1212,"v":60},{"kb":1215,"v":48},{"kb":1218,"v":65},{"kb":1221,"v":50},{"kb":1224,"v":70},{"kb":1227,"v":50},{"kb":1230,"v":88},{"kb":1233,"v":55},{"kb":1236,"v":60},{"kb":1239,"v":50},{"kb":1242,"v":-43},{"kb":1242,"v":70},{"kb":1245,"v":55},{"kb":1248,"v":-25},{"kb":1248,"v":75},{"kb":1251,"v":55},{"kb":1254,"v":85},{"kb":1257,"v":60},{"kb":1260,"v":90},{"kb":1263,"v":62},{"kb":1266,"v":95},{"kb":1269,"v":65},{"kb":1272,"v":112},{"kb":1275,"v":70},{"kb":1278,"v":85},{"kb":1281,"v":60},{"kb":1285,"v":-25},{"kb":1287,"v":25},{"kb":1288,"v":-35},{"kb":1290,"v":-20},{"kb":1291,"v":40},{"kb":1293,"v":-49},{"kb":1295,"v":-30},{"kb":1296,"v":35},{"kb":1298,"v":-25},{"kb":1301,"v":30},{"kb":1304,"v":50},{"kb":1307,"v":40},{"kb":1310,"v":65},{"kb":1313,"v":45},{"kb":1316,"v":75},{"kb":1319,"v":55},{"kb":1322,"v":91},{"kb":1325,"v":60},{"kb":1328,"v":70},{"kb":1331,"v":50},{"kb":1335,"v":66},{"kb":1338,"v":-64},{"kb":1341,"v":-50},{"kb":1344,"v":-45},{"kb":1347,"v":-70},{"kb":1350,"v":-55},{"kb":1353,"v":-85},{"kb":1356,"v":-60},{"kb":1358,"v":-45},{"kb":1361,"v":-90},{"kb":1364,"v":-117},{"kb":1367,"v":-70},{"kb":1370,"v":-95},{"kb":1373,"v":-65},{"kb":1376,"v":-100},{"kb":1379,"v":-75},{"kb":1381,"v":-119},{"kb":1384,"v":40},{"kb":1387,"v":68},{"kb":1390,"v":45},{"kb":1393,"v":35},{"kb":1396,"v":-35},{"kb":1396,"v":50},{"kb":1399,"v":40},{"kb":1402,"v":55},{"kb":1405,"v":-28},{"kb":1405,"v":45},{"kb":1408,"v":30},{"kb":1411,"v":55},{"kb":1414,"v":40},{"kb":1417,"v":65},{"kb":1420,"v":75},{"kb":1422,"v":50},{"kb":1424,"v":-60},{"kb":1428,"v":-88},{"kb":1431,"v":-65},{"kb":1434,"v":-75},{"kb":1437,"v":-55},{"kb":1440,"v":-70},{"kb":1443,"v":-60},{"kb":1446,"v":23},{"kb":1446,"v":-72},{"kb":1449,"v":-55},{"kb":1452,"v":-80},{"kb":1454,"v":-89},{"kb":1457,"v":-60},{"kb":1460,"v":-70},{"kb":1463,"v":-50},{"kb":1466,"v":-78},{"kb":1469,"v":-55},{"kb":1472,"v":-65},{"kb":1476,"v":-85},{"kb":1479,"v":-55},{"kb":1482,"v":-70},{"kb":1485,"v":-50},{"kb":1488,"v":-75},{"kb":1491,"v":-55},{"kb":1494,"v":-68},{"kb":1496,"v":32},{"kb":1496,"v":-45},{"kb":1499,"v":-60},{"kb":1502,"v":-72},{"kb":1505,"v":-50},{"kb":1508,"v":-80},{"kb":1511,"v":-60},{"kb":1513,"v":-96},{"kb":1516,"v":-55},{"kb":1519,"v":-70},{"kb":1522,"v":-50},{"kb":1525,"v":-65},{"kb":1528,"v":-55},{"kb":1531,"v":-72},{"kb":1534,"v":-50},{"kb":1537,"v":-68},{"kb":1540,"v":-48},{"kb":1544,"v":-76},{"kb":1547,"v":-40},{"kb":1548,"v":80},{"kb":1551,"v":45},{"kb":1554,"v":55},{"kb":1556,"v":40},{"kb":1559,"v":71},{"kb":1562,"v":45},{"kb":1565,"v":40},{"kb":1568,"v":-20},{"kb":1568,"v":50},{"kb":1571,"v":45},{"kb":1574,"v":55},{"kb":1577,"v":59},{"kb":1580,"v":40},{"kb":1585,"v":-60},{"kb":1588,"v":-70},{"kb":1592,"v":-95},{"kb":1595,"v":-60},{"kb":1598,"v":-75},{"kb":1601,"v":-55},{"kb":1604,"v":-65},{"kb":1607,"v":-58},{"kb":1610,"v":-72},{"kb":1613,"v":-55},{"kb":1617,"v":-82},{"kb":1620,"v":-58},{"kb":1623,"v":-65},{"kb":1626,"v":-55},{"kb":1629,"v":-70},{"kb":1632,"v":-60},{"kb":1635,"v":-75},{"kb":1638,"v":-65},{"kb":1641,"v":-93},{"kb":1644,"v":-70},{"kb":1647,"v":-80},{"kb":1650,"v":-62},{"kb":1652,"v":20},{"kb":1653,"v":-72},{"kb":1657,"v":-62},{"kb":1660,"v":-75},{"kb":1663,"v":-55},{"kb":1666,"v":-68},{"kb":1670,"v":-58},{"kb":1674,"v":-70},{"kb":1677,"v":-55},{"kb":1681,"v":-75},{"kb":1684,"v":-60},{"kb":1688,"v":-70},{"kb":1691,"v":-85},{"kb":1694,"v":-55},{"kb":1697,"v":-65},{"kb":1701,"v":22},{"kb":1701,"v":-55},{"kb":1704,"v":-75},{"kb":1708,"v":29},{"kb":1708,"v":-60},{"kb":1711,"v":-70},{"kb":1714,"v":-55},{"kb":1718,"v":-98},{"kb":1721,"v":-60},{"kb":1724,"v":-72},{"kb":1726,"v":34},{"kb":1729,"v":-55},{"kb":1732,"v":-68},{"kb":1735,"v":-52},{"kb":1738,"v":-75},{"kb":1741,"v":-58},{"kb":1743,"v":38},{"kb":1744,"v":-66},{"kb":1747,"v":-77},{"kb":1750,"v":53},{"kb":1750,"v":-55},{"kb":1753,"v":-70},{"kb":1756,"v":-50},{"kb":1759,"v":-72},{"kb":1762,"v":-55},{"kb":1765,"v":-65},{"kb":1768,"v":-50},{"kb":1772,"v":-85},{"kb":1775,"v":-55},{"kb":1778,"v":-70},{"kb":1781,"v":-50},{"kb":1785,"v":-83},{"kb":1787,"v":78},{"kb":1790,"v":50},{"kb":1794,"v":81},{"kb":1797,"v":55},{"kb":1800,"v":45},{"kb":1803,"v":65},{"kb":1806,"v":50},{"kb":1809,"v":72},{"kb":1812,"v":45},{"kb":1815,"v":50},{"kb":1818,"v":60},{"kb":1821,"v":45},{"kb":1824,"v":55},{"kb":1826,"v":-50},{"kb":1827,"v":45},{"kb":1830,"v":77},{"kb":1833,"v":50},{"kb":1836,"v":45},{"kb":1839,"v":60},{"kb":1842,"v":-31},{"kb":1842,"v":50},{"kb":1845,"v":45},{"kb":1848,"v":70},{"kb":1851,"v":55},{"kb":1854,"v":60},{"kb":1857,"v":75},{"kb":1861,"v":105},{"kb":1864,"v":55},{"kb":1867,"v":70},{"kb":1870,"v":50},{"kb":1873,"v":65},{"kb":1876,"v":50},{"kb":1879,"v":75},{"kb":1882,"v":55},{"kb":1885,"v":60},{"kb":1888,"v":70},{"kb":1891,"v":55},{"kb":1894,"v":65},{"kb":1897,"v":84},{"kb":1899,"v":-60},{"kb":1901,"v":-80},{"kb":1903,"v":-73},{"kb":1906,"v":-90},{"kb":1908,"v":-70},{"kb":1910,"v":-114},{"kb":1912,"v":-85},{"kb":1914,"v":-103},{"kb":1916,"v":-50},{"kb":1918,"v":50},{"kb":1921,"v":60},{"kb":1924,"v":45},{"kb":1927,"v":70},{"kb":1930,"v":55},{"kb":1932,"v":77},{"kb":1935,"v":60},{"kb":1938,"v":102},{"kb":1941,"v":40},{"kb":1945,"v":-45},{"kb":1947,"v":-64},{"kb":1950,"v":-70},{"kb":1953,"v":-55},{"kb":1956,"v":-80},{"kb":1959,"v":-60},{"kb":1961,"v":-94},{"kb":1963,"v":-40},{"kb":1967,"v":81},{"kb":1970,"v":60},{"kb":1973,"v":70},{"kb":1976,"v":55},{"kb":1979,"v":75},{"kb":1981,"v":60},{"kb":1983,"v":100},{"kb":1987,"v":-45},{"kb":1990,"v":-60},{"kb":1993,"v":-50},{"kb":1996,"v":-70},{"kb":2000,"v":-84},{"kb":2003,"v":-55},{"kb":2006,"v":-72},{"kb":2009,"v":-50},{"kb":2012,"v":-65},{"kb":2015,"v":-45},{"kb":2018,"v":-60},{"kb":2021,"v":-50},{"kb":2024,"v":-70},{"kb":2027,"v":-55},{"kb":2029,"v":-77},{"kb":2032,"v":-40},{"kb":2034,"v":-35},{"kb":2035,"v":86},{"kb":2038,"v":55},{"kb":2041,"v":65},{"kb":2043,"v":40},{"kb":2046,"v":96},{"kb":2049,"v":60},{"kb":2052,"v":45},{"kb":2055,"v":75},{"kb":2057,"v":35},{"kb":2059,"v":92},{"kb":2062,"v":50},{"kb":2063,"v":-29},{"kb":2065,"v":60},{"kb":2068,"v":40},{"kb":2070,"v":68},{"kb":2073,"v":35},{"kb":2074,"v":-45},{"kb":2076,"v":30},{"kb":2077,"v":-79},{"kb":2080,"v":-60},{"kb":2083,"v":45},{"kb":2086,"v":60},{"kb":2089,"v":40},{"kb":2092,"v":70},{"kb":2094,"v":45},{"kb":2096,"v":101},{"kb":2099,"v":50},{"kb":2101,"v":60},{"kb":2103,"v":82},{"kb":2106,"v":50},{"kb":2108,"v":-30},{"kb":2109,"v":55},{"kb":2111,"v":-63},{"kb":2112,"v":60},{"kb":2115,"v":45},{"kb":2118,"v":55},{"kb":2121,"v":80},{"kb":2124,"v":50},{"kb":2126,"v":-35},{"kb":2127,"v":45},{"kb":2129,"v":-71},{"kb":2130,"v":40},{"kb":2133,"v":63},{"kb":2136,"v":45},{"kb":2139,"v":55},{"kb":2141,"v":-25},{"kb":2142,"v":40},{"kb":2145,"v":60},{"kb":2147,"v":55},{"kb":2150,"v":45},{"kb":2151,"v":-25},{"kb":2153,"v":50},{"kb":2156,"v":-37}],
"inner":[{"kb":2,"v":-18},{"kb":4,"v":12},{"kb":6,"v":-20},{"kb":8,"v":15},{"kb":10,"v":30},{"kb":12,"v":-15},{"kb":14,"v":28},{"kb":16,"v":-22},{"kb":18,"v":18},{"kb":20,"v":-15},{"kb":22,"v":22},{"kb":24,"v":-25},{"kb":27,"v":44},{"kb":29,"v":-18},{"kb":31,"v":20},{"kb":33,"v":-25},{"kb":35,"v":25},{"kb":37,"v":-15},{"kb":39,"v":30},{"kb":42,"v":-22},{"kb":44,"v":18},{"kb":46,"v":-39},{"kb":48,"v":20},{"kb":50,"v":-28},{"kb":52,"v":28},{"kb":54,"v":-20},{"kb":56,"v":10},{"kb":58,"v":-25},{"kb":60,"v":18},{"kb":62,"v":-18},{"kb":64,"v":15},{"kb":66,"v":-25},{"kb":68,"v":22},{"kb":70,"v":-15},{"kb":72,"v":14},{"kb":74,"v":-20},{"kb":76,"v":25},{"kb":78,"v":-15},{"kb":80,"v":12},{"kb":83,"v":-25},{"kb":85,"v":22},{"kb":87,"v":-30},{"kb":89,"v":18},{"kb":91,"v":-28},{"kb":93,"v":30},{"kb":96,"v":-25},{"kb":98,"v":32},{"kb":100,"v":-35},{"kb":102,"v":20},{"kb":104,"v":36},{"kb":106,"v":-20},{"kb":109,"v":-43},{"kb":111,"v":30},{"kb":113,"v":-38},{"kb":115,"v":25},{"kb":118,"v":-40},{"kb":120,"v":18},{"kb":122,"v":-35},{"kb":125,"v":20},{"kb":127,"v":-30},{"kb":129,"v":28},{"kb":132,"v":-38},{"kb":134,"v":25},{"kb":136,"v":-28},{"kb":138,"v":35},{"kb":140,"v":-30},{"kb":142,"v":20},{"kb":145,"v":39},{"kb":147,"v":-30},{"kb":149,"v":25},{"kb":151,"v":-22},{"kb":153,"v":30},{"kb":156,"v":-18},{"kb":158,"v":32},{"kb":161,"v":-15},{"kb":163,"v":35},{"kb":166,"v":-25},{"kb":169,"v":-38},{"kb":171,"v":25},{"kb":173,"v":-30},{"kb":175,"v":40},{"kb":178,"v":50},{"kb":180,"v":76},{"kb":182,"v":30},{"kb":184,"v":-20},{"kb":187,"v":-15},{"kb":189,"v":25},{"kb":192,"v":-98},{"kb":195,"v":-40},{"kb":197,"v":18},{"kb":199,"v":-30},{"kb":201,"v":20},{"kb":203,"v":-85},{"kb":205,"v":-25},{"kb":207,"v":15},{"kb":209,"v":25},{"kb":212,"v":20},{"kb":215,"v":-35},{"kb":217,"v":30},{"kb":220,"v":52},{"kb":222,"v":25},{"kb":224,"v":-30},{"kb":226,"v":35},{"kb":228,"v":-20},{"kb":230,"v":28},{"kb":232,"v":-40},{"kb":234,"v":25},{"kb":237,"v":30},{"kb":240,"v":-52},{"kb":242,"v":28},{"kb":245,"v":-35},{"kb":247,"v":45},{"kb":249,"v":-28},{"kb":251,"v":25},{"kb":253,"v":-30},{"kb":255,"v":20},{"kb":258,"v":-35},{"kb":260,"v":28},{"kb":262,"v":-25},{"kb":265,"v":30},{"kb":268,"v":-40},{"kb":270,"v":22},{"kb":273,"v":-30},{"kb":275,"v":28},{"kb":278,"v":-35},{"kb":281,"v":37},{"kb":283,"v":-30},{"kb":285,"v":25},{"kb":288,"v":-45},{"kb":290,"v":28},{"kb":292,"v":-30},{"kb":295,"v":-55},{"kb":297,"v":20},{"kb":300,"v":30},{"kb":303,"v":39},{"kb":305,"v":-25},{"kb":307,"v":22},{"kb":310,"v":-38},{"kb":312,"v":18},{"kb":315,"v":32},{"kb":318,"v":57},{"kb":320,"v":-35},{"kb":322,"v":22},{"kb":325,"v":-30},{"kb":328,"v":-71},{"kb":330,"v":25},{"kb":333,"v":-40},{"kb":335,"v":28},{"kb":338,"v":-25},{"kb":340,"v":22},{"kb":342,"v":-20},{"kb":345,"v":30},{"kb":348,"v":-38},{"kb":350,"v":25},{"kb":353,"v":35},{"kb":356,"v":50},{"kb":358,"v":-28},{"kb":360,"v":25},{"kb":362,"v":-25},{"kb":364,"v":30},{"kb":367,"v":-48},{"kb":369,"v":22},{"kb":372,"v":-40},{"kb":374,"v":28},{"kb":377,"v":-35},{"kb":379,"v":25},{"kb":382,"v":-30},{"kb":384,"v":35},{"kb":386,"v":-25},{"kb":388,"v":30},{"kb":391,"v":-28},{"kb":394,"v":25},{"kb":396,"v":-38},{"kb":398,"v":30},{"kb":400,"v":-22},{"kb":402,"v":25},{"kb":405,"v":-45},{"kb":408,"v":-77},{"kb":410,"v":25},{"kb":412,"v":-38},{"kb":414,"v":20},{"kb":416,"v":30},{"kb":418,"v":-30},{"kb":421,"v":28},{"kb":424,"v":-35},{"kb":426,"v":25},{"kb":429,"v":-25},{"kb":432,"v":32},{"kb":434,"v":-30},{"kb":436,"v":25},{"kb":439,"v":-22},{"kb":441,"v":35},{"kb":444,"v":-28},{"kb":447,"v":36},{"kb":450,"v":-25},{"kb":452,"v":30},{"kb":455,"v":-35},{"kb":457,"v":28},{"kb":460,"v":-42},{"kb":462,"v":30},{"kb":464,"v":-25},{"kb":467,"v":25},{"kb":469,"v":-32},{"kb":472,"v":28},{"kb":475,"v":-22},{"kb":477,"v":32},{"kb":480,"v":-30},{"kb":483,"v":25},{"kb":486,"v":-28},{"kb":489,"v":30},{"kb":492,"v":-25},{"kb":495,"v":35},{"kb":498,"v":-20},{"kb":501,"v":42},{"kb":504,"v":-25},{"kb":507,"v":25},{"kb":510,"v":-18},{"kb":513,"v":30},{"kb":516,"v":-25},{"kb":519,"v":22},{"kb":522,"v":-15},{"kb":525,"v":28},{"kb":528,"v":-22},{"kb":531,"v":30},{"kb":534,"v":-18},{"kb":537,"v":35},{"kb":540,"v":-20},{"kb":543,"v":30},{"kb":546,"v":-14},{"kb":549,"v":25},{"kb":552,"v":-18},{"kb":555,"v":28},{"kb":558,"v":-20},{"kb":561,"v":32},{"kb":564,"v":-28},{"kb":568,"v":-89},{"kb":570,"v":-40},{"kb":572,"v":20},{"kb":575,"v":25},{"kb":578,"v":-30},{"kb":580,"v":18},{"kb":583,"v":30},{"kb":586,"v":28},{"kb":589,"v":35},{"kb":592,"v":42},{"kb":595,"v":30},{"kb":598,"v":15},{"kb":604,"v":-22},{"kb":607,"v":25},{"kb":610,"v":-30},{"kb":613,"v":28},{"kb":616,"v":-35},{"kb":620,"v":-55},{"kb":622,"v":25},{"kb":625,"v":-40},{"kb":628,"v":30},{"kb":631,"v":-35},{"kb":634,"v":28},{"kb":637,"v":-38},{"kb":640,"v":30},{"kb":643,"v":-25},{"kb":646,"v":35},{"kb":649,"v":28},{"kb":652,"v":40},{"kb":654,"v":52},{"kb":656,"v":-25},{"kb":659,"v":-43},{"kb":662,"v":30},{"kb":665,"v":-38},{"kb":667,"v":35},{"kb":670,"v":51},{"kb":673,"v":-30},{"kb":676,"v":30},{"kb":679,"v":-35},{"kb":682,"v":25},{"kb":685,"v":-40},{"kb":688,"v":35},{"kb":690,"v":44},{"kb":693,"v":-25},{"kb":696,"v":30},{"kb":698,"v":-44},{"kb":701,"v":-35},{"kb":704,"v":28},{"kb":707,"v":-45},{"kb":710,"v":20},{"kb":713,"v":-55},{"kb":717,"v":-63},{"kb":719,"v":22},{"kb":722,"v":-40},{"kb":724,"v":30},{"kb":726,"v":54},{"kb":729,"v":-30},{"kb":732,"v":35},{"kb":735,"v":-35},{"kb":738,"v":30},{"kb":741,"v":-50},{"kb":744,"v":28},{"kb":747,"v":-45},{"kb":750,"v":35},{"kb":753,"v":-55},{"kb":756,"v":30},{"kb":759,"v":-60},{"kb":762,"v":25},{"kb":766,"v":-84},{"kb":768,"v":30},{"kb":771,"v":39},{"kb":773,"v":-45},{"kb":776,"v":35},{"kb":779,"v":-50},{"kb":782,"v":30},{"kb":785,"v":-40},{"kb":788,"v":35},{"kb":790,"v":50},{"kb":793,"v":-35},{"kb":796,"v":30},{"kb":799,"v":25},{"kb":802,"v":35},{"kb":805,"v":30},{"kb":808,"v":-35},{"kb":811,"v":25},{"kb":814,"v":-55},{"kb":817,"v":-73},{"kb":817,"v":90},{"kb":820,"v":30},{"kb":823,"v":-50},{"kb":826,"v":25},{"kb":829,"v":-45},{"kb":832,"v":30},{"kb":835,"v":-50},{"kb":838,"v":25},{"kb":841,"v":-40},{"kb":844,"v":30},{"kb":847,"v":-35},{"kb":850,"v":25},{"kb":853,"v":30},{"kb":856,"v":-30},{"kb":859,"v":40},{"kb":862,"v":25},{"kb":865,"v":-40},{"kb":868,"v":30},{"kb":871,"v":25},{"kb":874,"v":-35},{"kb":877,"v":28},{"kb":881,"v":41},{"kb":884,"v":-30},{"kb":887,"v":25},{"kb":891,"v":-45},{"kb":893,"v":25},{"kb":896,"v":-35},{"kb":899,"v":28},{"kb":902,"v":-30},{"kb":905,"v":-40},{"kb":908,"v":30},{"kb":911,"v":25},{"kb":913,"v":-35},{"kb":915,"v":-53},{"kb":916,"v":33},{"kb":919,"v":25},{"kb":922,"v":-40},{"kb":925,"v":30},{"kb":928,"v":-35},{"kb":931,"v":25},{"kb":934,"v":-45},{"kb":936,"v":28},{"kb":939,"v":30},{"kb":941,"v":-44},{"kb":944,"v":30},{"kb":947,"v":48},{"kb":949,"v":-30},{"kb":952,"v":25},{"kb":955,"v":-40},{"kb":958,"v":30},{"kb":960,"v":-25},{"kb":963,"v":-43},{"kb":966,"v":28},{"kb":969,"v":-30},{"kb":971,"v":30},{"kb":974,"v":44},{"kb":977,"v":-25},{"kb":980,"v":28},{"kb":983,"v":-35},{"kb":986,"v":-38},{"kb":988,"v":30},{"kb":991,"v":-30},{"kb":994,"v":35},{"kb":997,"v":-25},{"kb":1000,"v":28},{"kb":1003,"v":-40},{"kb":1006,"v":25},{"kb":1010,"v":-55},{"kb":1012,"v":30},{"kb":1015,"v":-30},{"kb":1018,"v":35},{"kb":1021,"v":73},{"kb":1024,"v":-30},{"kb":1027,"v":-86},{"kb":1030,"v":52},{"kb":1033,"v":-30},{"kb":1036,"v":28},{"kb":1039,"v":-25},{"kb":1042,"v":30},{"kb":1045,"v":-30},{"kb":1048,"v":-56},{"kb":1051,"v":25},{"kb":1054,"v":-35},{"kb":1058,"v":40},{"kb":1061,"v":-25},{"kb":1064,"v":25},{"kb":1068,"v":-46},{"kb":1071,"v":20},{"kb":1074,"v":-18},{"kb":1077,"v":30},{"kb":1080,"v":-25},{"kb":1083,"v":-35},{"kb":1085,"v":-25},{"kb":1087,"v":28},{"kb":1090,"v":-30},{"kb":1093,"v":-40},{"kb":1096,"v":25},{"kb":1100,"v":-55},{"kb":1103,"v":-70},{"kb":1105,"v":-65},{"kb":1107,"v":-84},{"kb":1109,"v":-45},{"kb":1111,"v":30},{"kb":1113,"v":62},{"kb":1115,"v":40},{"kb":1118,"v":50},{"kb":1121,"v":35},{"kb":1124,"v":45},{"kb":1127,"v":30},{"kb":1130,"v":-25},{"kb":1132,"v":30},{"kb":1135,"v":45},{"kb":1137,"v":35},{"kb":1139,"v":53},{"kb":1142,"v":30},{"kb":1145,"v":-30},{"kb":1148,"v":-35},{"kb":1151,"v":-43},{"kb":1153,"v":-25},{"kb":1155,"v":25},{"kb":1158,"v":35},{"kb":1161,"v":-25},{"kb":1164,"v":30},{"kb":1167,"v":-28},{"kb":1170,"v":35},{"kb":1173,"v":-30},{"kb":1176,"v":25},{"kb":1179,"v":-35},{"kb":1182,"v":30},{"kb":1185,"v":-25},{"kb":1188,"v":35},{"kb":1191,"v":-35},{"kb":1194,"v":30},{"kb":1197,"v":-40},{"kb":1200,"v":25},{"kb":1203,"v":-30},{"kb":1206,"v":40},{"kb":1209,"v":-35},{"kb":1212,"v":28},{"kb":1215,"v":-25},{"kb":1218,"v":35},{"kb":1221,"v":-30},{"kb":1224,"v":38},{"kb":1227,"v":-35},{"kb":1230,"v":30},{"kb":1233,"v":-25},{"kb":1236,"v":-40},{"kb":1238,"v":-49},{"kb":1240,"v":-45},{"kb":1243,"v":35},{"kb":1246,"v":25},{"kb":1249,"v":-30},{"kb":1252,"v":30},{"kb":1255,"v":-35},{"kb":1258,"v":-25},{"kb":1261,"v":30},{"kb":1264,"v":35},{"kb":1267,"v":-30},{"kb":1270,"v":-35},{"kb":1271,"v":42},{"kb":1274,"v":-39},{"kb":1276,"v":30},{"kb":1279,"v":-30},{"kb":1282,"v":-50},{"kb":1285,"v":-60},{"kb":1287,"v":-89},{"kb":1290,"v":-45},{"kb":1293,"v":30},{"kb":1296,"v":35},{"kb":1299,"v":-30},{"kb":1302,"v":25},{"kb":1305,"v":-35},{"kb":1307,"v":40},{"kb":1310,"v":45},{"kb":1313,"v":-30},{"kb":1316,"v":30},{"kb":1319,"v":-40},{"kb":1322,"v":28},{"kb":1325,"v":-35},{"kb":1328,"v":25},{"kb":1331,"v":-45},{"kb":1334,"v":30},{"kb":1336,"v":-69},{"kb":1339,"v":28},{"kb":1342,"v":-40},{"kb":1345,"v":45},{"kb":1348,"v":-30},{"kb":1350,"v":75},{"kb":1353,"v":50},{"kb":1356,"v":-30},{"kb":1359,"v":45},{"kb":1362,"v":-55},{"kb":1364,"v":-88},{"kb":1366,"v":86},{"kb":1369,"v":40},{"kb":1372,"v":-60},{"kb":1376,"v":-50},{"kb":1379,"v":-79},{"kb":1382,"v":-30},{"kb":1385,"v":30},{"kb":1388,"v":-35},{"kb":1391,"v":25},{"kb":1394,"v":-40},{"kb":1397,"v":30},{"kb":1400,"v":-35},{"kb":1403,"v":28},{"kb":1406,"v":-30},{"kb":1409,"v":32},{"kb":1412,"v":-40},{"kb":1415,"v":28},{"kb":1418,"v":-35},{"kb":1421,"v":30},{"kb":1424,"v":-45},{"kb":1427,"v":35},{"kb":1430,"v":-30},{"kb":1433,"v":28},{"kb":1436,"v":-40},{"kb":1439,"v":30},{"kb":1442,"v":-25},{"kb":1445,"v":35},{"kb":1448,"v":-30},{"kb":1451,"v":28},{"kb":1454,"v":-45},{"kb":1457,"v":35},{"kb":1460,"v":-30},{"kb":1463,"v":38},{"kb":1466,"v":-50},{"kb":1469,"v":35},{"kb":1473,"v":-72},{"kb":1476,"v":-35},{"kb":1479,"v":40},{"kb":1482,"v":30},{"kb":1485,"v":-35},{"kb":1488,"v":-45},{"kb":1491,"v":28},{"kb":1494,"v":-30},{"kb":1497,"v":35},{"kb":1500,"v":40},{"kb":1504,"v":55},{"kb":1507,"v":30},{"kb":1510,"v":-35},{"kb":1513,"v":-45},{"kb":1516,"v":30},{"kb":1521,"v":-60},{"kb":1524,"v":35},{"kb":1527,"v":-30},{"kb":1530,"v":40},{"kb":1533,"v":30},{"kb":1536,"v":-25},{"kb":1539,"v":38},{"kb":1542,"v":45},{"kb":1545,"v":-80},{"kb":1548,"v":-35},{"kb":1551,"v":50},{"kb":1554,"v":30},{"kb":1557,"v":-25},{"kb":1559,"v":57},{"kb":1562,"v":45},{"kb":1565,"v":-40},{"kb":1568,"v":-76},{"kb":1571,"v":-45},{"kb":1574,"v":25},{"kb":1577,"v":40},{"kb":1580,"v":30},{"kb":1583,"v":-25},{"kb":1586,"v":35},{"kb":1589,"v":-35},{"kb":1592,"v":35},{"kb":1595,"v":-30},{"kb":1598,"v":30},{"kb":1601,"v":-25},{"kb":1604,"v":35},{"kb":1607,"v":25},{"kb":1610,"v":-30},{"kb":1613,"v":40},{"kb":1616,"v":-22},{"kb":1619,"v":30},{"kb":1622,"v":-28},{"kb":1625,"v":35},{"kb":1628,"v":-25},{"kb":1631,"v":30},{"kb":1634,"v":-30},{"kb":1637,"v":25},{"kb":1640,"v":-55},{"kb":1643,"v":30},{"kb":1646,"v":-25},{"kb":1649,"v":35},{"kb":1652,"v":-30},{"kb":1654,"v":-50},{"kb":1657,"v":28},{"kb":1660,"v":-20},{"kb":1663,"v":30},{"kb":1666,"v":-30},{"kb":1669,"v":35},{"kb":1672,"v":-35},{"kb":1675,"v":25},{"kb":1678,"v":-40},{"kb":1681,"v":38},{"kb":1684,"v":-35},{"kb":1687,"v":30},{"kb":1690,"v":-45},{"kb":1693,"v":35},{"kb":1696,"v":-40},{"kb":1699,"v":30},{"kb":1703,"v":-95},{"kb":1706,"v":35},{"kb":1709,"v":-40},{"kb":1712,"v":45},{"kb":1715,"v":-55},{"kb":1718,"v":50},{"kb":1721,"v":-40},{"kb":1725,"v":66},{"kb":1728,"v":40},{"kb":1731,"v":-45},{"kb":1734,"v":35},{"kb":1737,"v":-50},{"kb":1740,"v":30},{"kb":1743,"v":-45},{"kb":1746,"v":40},{"kb":1749,"v":-55},{"kb":1753,"v":-69},{"kb":1756,"v":35},{"kb":1759,"v":45},{"kb":1762,"v":53},{"kb":1765,"v":-40},{"kb":1768,"v":35},{"kb":1771,"v":-50},{"kb":1774,"v":40},{"kb":1777,"v":-45},{"kb":1780,"v":35},{"kb":1783,"v":-50},{"kb":1786,"v":45},{"kb":1789,"v":-40},{"kb":1792,"v":62},{"kb":1796,"v":-71},{"kb":1799,"v":40},{"kb":1802,"v":-50},{"kb":1805,"v":35},{"kb":1808,"v":-45},{"kb":1811,"v":40},{"kb":1813,"v":52},{"kb":1816,"v":-50},{"kb":1819,"v":30},{"kb":1822,"v":-45},{"kb":1825,"v":35},{"kb":1828,"v":-55},{"kb":1831,"v":30},{"kb":1834,"v":-40},{"kb":1837,"v":40},{"kb":1840,"v":-35},{"kb":1843,"v":-30},{"kb":1846,"v":35},{"kb":1849,"v":45},{"kb":1852,"v":-30},{"kb":1855,"v":40},{"kb":1858,"v":-45},{"kb":1861,"v":35},{"kb":1864,"v":-40},{"kb":1867,"v":30},{"kb":1871,"v":55},{"kb":1874,"v":-35},{"kb":1877,"v":30},{"kb":1880,"v":-45},{"kb":1883,"v":25},{"kb":1886,"v":30},{"kb":1889,"v":-40},{"kb":1892,"v":-55},{"kb":1895,"v":30},{"kb":1898,"v":-80},{"kb":1901,"v":25},{"kb":1904,"v":35},{"kb":1907,"v":-30},{"kb":1910,"v":40},{"kb":1913,"v":45},{"kb":1916,"v":-25},{"kb":1919,"v":50},{"kb":1922,"v":60},{"kb":1925,"v":70},{"kb":1928,"v":85},{"kb":1930,"v":109},{"kb":1933,"v":-35},{"kb":1936,"v":-60},{"kb":1939,"v":-90},{"kb":1942,"v":-111},{"kb":1945,"v":-55},{"kb":1948,"v":-30},{"kb":1951,"v":35},{"kb":1954,"v":-40},{"kb":1957,"v":30},{"kb":1960,"v":-45},{"kb":1963,"v":35},{"kb":1966,"v":-50},{"kb":1969,"v":35},{"kb":1972,"v":-40},{"kb":1975,"v":30},{"kb":1978,"v":-55},{"kb":1981,"v":35},{"kb":1984,"v":-50},{"kb":1987,"v":30},{"kb":1990,"v":-55},{"kb":1993,"v":35},{"kb":1997,"v":-73},{"kb":2000,"v":35},{"kb":2003,"v":-45},{"kb":2006,"v":40},{"kb":2009,"v":-40},{"kb":2012,"v":30},{"kb":2015,"v":-45},{"kb":2018,"v":50},{"kb":2021,"v":35},{"kb":2024,"v":-50},{"kb":2027,"v":28},{"kb":2030,"v":-60},{"kb":2033,"v":55},{"kb":2036,"v":40},{"kb":2039,"v":126},{"kb":2041,"v":-68},{"kb":2043,"v":60},{"kb":2046,"v":-30},{"kb":2049,"v":40},{"kb":2052,"v":-45},{"kb":2055,"v":25},{"kb":2058,"v":35},{"kb":2061,"v":-30},{"kb":2064,"v":38},{"kb":2067,"v":-25},{"kb":2070,"v":30},{"kb":2073,"v":-45},{"kb":2076,"v":35},{"kb":2078,"v":-58},{"kb":2081,"v":28},{"kb":2084,"v":69},{"kb":2087,"v":-30},{"kb":2090,"v":45},{"kb":2093,"v":-35},{"kb":2096,"v":40},{"kb":2099,"v":-25},{"kb":2102,"v":35},{"kb":2105,"v":-30},{"kb":2108,"v":30},{"kb":2111,"v":-28},{"kb":2114,"v":35},{"kb":2117,"v":-25},{"kb":2120,"v":40},{"kb":2123,"v":-35},{"kb":2126,"v":35},{"kb":2129,"v":-30},{"kb":2132,"v":28},{"kb":2135,"v":-35},{"kb":2138,"v":38},{"kb":2141,"v":-30},{"kb":2144,"v":35},{"kb":2147,"v":-28},{"kb":2150,"v":30},{"kb":2153,"v":-25},{"kb":2156,"v":20}]
},
"layer":[
{"data":{"name":"ideo"},"mark":{"type":"arc","radius":975,"radius2":927,"stroke":"black","strokeWidth":1},"encoding":{"theta":{"field":"kb","type":"quantitative","scale":{"domain":[0,2178],"nice":false}},"theta2":{"field":"end"},"fill":{"field":"shade","type":"nominal","scale":{"domain":["a","b","c","d"],"range":["#efefef","#bbbbbb","#606060","#000000"]},"legend":null}}},
{"data":{"name":"ticks"},"mark":{"type":"arc","radius":982,"radius2":975,"stroke":"black","strokeWidth":1.5},"encoding":{"theta":{"field":"kb","type":"quantitative","scale":{"domain":[0,2178],"nice":false}},"theta2":{"field":"kb"}}},
{"data":{"name":"ticks"},"transform":[{"filter":"datum.kb%100==0"}],"mark":{"type":"arc","radius":992,"radius2":975,"stroke":"black","strokeWidth":2},"encoding":{"theta":{"field":"kb","type":"quantitative","scale":{"domain":[0,2178],"nice":false}},"theta2":{"field":"kb"}}},
{"data":{"name":"labels"},"transform":[{"filter":"datum.kb<1050"}],"mark":{"type":"text","radius":1000,"align":"left","baseline":"middle","font":"Liberation Sans","fontSize":43,"fill":"black"},"encoding":{"theta":{"field":"kb","type":"quantitative","stack":null,"scale":{"domain":[0,2178],"nice":false}},"text":{"field":"t"},"angle":{"field":"kb","type":"quantitative","scale":{"domain":[0,2178],"range":[-90,270],"nice":false,"zero":false}}}},
{"data":{"name":"labels"},"transform":[{"filter":"datum.kb>1050"}],"mark":{"type":"text","radius":1000,"align":"right","baseline":"middle","font":"Liberation Sans","fontSize":43,"fill":"black"},"encoding":{"theta":{"field":"kb","type":"quantitative","stack":null,"scale":{"domain":[0,2178],"nice":false}},"text":{"field":"t"},"angle":{"field":"kb","type":"quantitative","scale":{"domain":[0,2178],"range":[90,450],"nice":false,"zero":false}}}},
{"data":{"name":"genes"},"transform":[{"filter":"datum.s==1"}],"mark":{"type":"arc","radius":907,"radius2":889},"encoding":{"theta":{"field":"kb","type":"quantitative","scale":{"domain":[0,2178],"nice":false}},"theta2":{"field":"end"},"fill":{"condition":{"test":"datum.t==='r'","value":"#fb6a4a"},"value":"#a6a6a6"}}},
{"data":{"name":"genes"},"transform":[{"filter":"datum.s==0"}],"mark":{"type":"arc","radius":888,"radius2":870},"encoding":{"theta":{"field":"kb","type":"quantitative","scale":{"domain":[0,2178],"nice":false}},"theta2":{"field":"end"},"fill":{"condition":{"test":"datum.t==='r'","value":"#fb6a4a"},"value":"#a6a6a6"}}},
{"data":{"name":"blocks"},"mark":{"type":"arc","radius":853,"radius2":815},"encoding":{"theta":{"field":"kb","type":"quantitative","scale":{"domain":[0,2178],"nice":false}},"theta2":{"field":"end"},"fill":{"condition":{"test":"datum.t==='l'","value":"#0a66a8"},"value":"#0a3e7e"}}},
{"data":{"name":"outer"},"transform":[{"filter":"datum.v>=0"},{"bin":{"step":10,"extent":[0,2180]},"field":"kb","as":["b0","b1"]},{"aggregate":[{"op":"min","field":"v","as":"m"},{"op":"count","as":"n"}],"groupby":["b0","b1"]},{"filter":"datum.n>=2"}],"mark":{"type":"arc","fill":"#9ecae1"},"encoding":{"theta":{"field":"b0","type":"quantitative","scale":{"domain":[0,2178],"nice":false}},"theta2":{"field":"b1"},"radius":{"field":"m","type":"quantitative","scale":{"domain":[-150,150],"range":[555,795],"nice":false,"zero":false}},"radius2":{"datum":0}}},
{"data":{"name":"outer"},"transform":[{"filter":"datum.v<0"},{"bin":{"step":10,"extent":[0,2180]},"field":"kb","as":["b0","b1"]},{"aggregate":[{"op":"max","field":"v","as":"m"},{"op":"count","as":"n"}],"groupby":["b0","b1"]},{"filter":"datum.n>=2"}],"mark":{"type":"arc","fill":"#fc9272"},"encoding":{"theta":{"field":"b0","type":"quantitative","scale":{"domain":[0,2178],"nice":false}},"theta2":{"field":"b1"},"radius":{"field":"m","type":"quantitative","scale":{"domain":[-150,150],"range":[555,795],"nice":false,"zero":false}},"radius2":{"datum":0}}},
{"data":{"name":"outer"},"mark":{"type":"arc","strokeWidth":2},"encoding":{"theta":{"field":"kb","type":"quantitative","scale":{"domain":[0,2178],"nice":false}},"theta2":{"field":"kb"},"radius":{"field":"v","type":"quantitative","scale":{"domain":[-150,150],"range":[525,825],"nice":false,"zero":false}},"radius2":{"datum":0},"stroke":{"condition":{"test":"datum.v>=0","value":"#6baed6"},"value":"#fb6a4a"}}},
{"data":{"name":"marks"},"mark":{"type":"arc","stroke":"black","strokeWidth":2.5},"encoding":{"theta":{"field":"kb","type":"quantitative","scale":{"domain":[0,2178],"nice":false}},"theta2":{"field":"kb"},"radius":{"field":"v","type":"quantitative","scale":{"domain":[-150,150],"range":[525,825],"nice":false,"zero":false}},"radius2":{"field":"v2"}}},
{"data":{"name":"inner"},"transform":[{"filter":"datum.v>=0"},{"bin":{"step":10,"extent":[0,2180]},"field":"kb","as":["b0","b1"]},{"aggregate":[{"op":"min","field":"v","as":"m"},{"op":"count","as":"n"}],"groupby":["b0","b1"]},{"filter":"datum.n>=2"}],"mark":{"type":"arc","fill":"#9ecae1"},"encoding":{"theta":{"field":"b0","type":"quantitative","scale":{"domain":[0,2178],"nice":false}},"theta2":{"field":"b1"},"radius":{"field":"m","type":"quantitative","scale":{"domain":[-150,150],"range":[377,497],"nice":false,"zero":false}},"radius2":{"datum":0}}},
{"data":{"name":"inner"},"transform":[{"filter":"datum.v<0"},{"bin":{"step":10,"extent":[0,2180]},"field":"kb","as":["b0","b1"]},{"aggregate":[{"op":"max","field":"v","as":"m"},{"op":"count","as":"n"}],"groupby":["b0","b1"]},{"filter":"datum.n>=2"}],"mark":{"type":"arc","fill":"#a1d99b"},"encoding":{"theta":{"field":"b0","type":"quantitative","scale":{"domain":[0,2178],"nice":false}},"theta2":{"field":"b1"},"radius":{"field":"m","type":"quantitative","scale":{"domain":[-150,150],"range":[377,497],"nice":false,"zero":false}},"radius2":{"datum":0}}},
{"data":{"name":"inner"},"mark":{"type":"arc","strokeWidth":1.8},"encoding":{"theta":{"field":"kb","type":"quantitative","scale":{"domain":[0,2178],"nice":false}},"theta2":{"field":"kb"},"radius":{"field":"v","type":"quantitative","scale":{"domain":[-150,150],"range":[287,587],"nice":false,"zero":false}},"radius2":{"datum":0},"stroke":{"condition":{"test":"datum.v>=0","value":"#6baed6"},"value":"#74c476"}}}
],
"resolve":{"scale":{"radius":"independent","angle":"independent"}}}
